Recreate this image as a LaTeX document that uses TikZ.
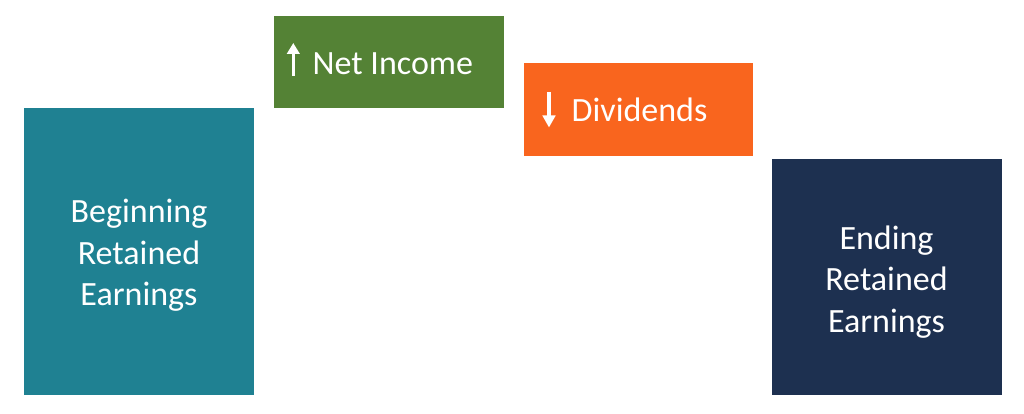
\documentclass[tikz,border=0pt]{standalone}
\usepackage{fontspec}
\setmainfont{Carlito}
\usetikzlibrary{arrows.meta}
\definecolor{tealbox}{HTML}{1F8192}
\definecolor{greenbox}{HTML}{548235}
\definecolor{orangebox}{HTML}{F9651E}
\definecolor{navybox}{HTML}{1D3050}
\tikzset{
  box/.style={draw=none, rectangle, inner sep=0pt, outer sep=0pt},
  boxtext/.style={text=white, font=\fontsize{34}{41.5}\selectfont, align=center, inner sep=0pt},
  labeltext/.style={text=white, font=\fontsize{34}{41.5}\selectfont, inner sep=0pt},
  glyph/.style={white, line width=3.4pt}
}
\begin{document}
\begin{tikzpicture}[x=1pt,y=-1pt]
\useasboundingbox (0,0) rectangle (1024,414);
% boxes
\fill[tealbox] (23.5,108.5) rectangle (254,395);
\node[box] (beg) at (138.75,251.75) {};
\fill[greenbox] (273.5,16) rectangle (503.5,108.5);
\node[box] (ni) at (388.5,62.25) {};
\fill[orangebox] (523.5,63.5) rectangle (753,156);
\node[box] (div) at (638.25,109.75) {};
\fill[navybox] (772,159.5) rectangle (1001.5,395);
\node[box] (end) at (886.75,277.25) {};
% texts
\node[boxtext] (begt) at (139,255.5) {Beginning\\Retained\\Earnings};
\node[boxtext] (endt) at (886.5,282) {Ending\\Retained\\Earnings};
\node[labeltext, anchor=base west] (nit) at (312.5,74.5) {Net Income};
\node[labeltext, anchor=base west] (divt) at (571.5,122) {Dividends};
% arrow glyphs
\coordinate (upa) at (293.3,75.7);
\coordinate (upb) at (293.3,43);
\draw[glyph, -{Triangle[width=12.5pt,length=11pt]}] (upa) -- (upb);
\coordinate (dna) at (549,92);
\coordinate (dnb) at (549,127.5);
\draw[glyph, -{Triangle[width=12.5pt,length=12pt]}] (dna) -- (dnb);
\end{tikzpicture}
\end{document}
